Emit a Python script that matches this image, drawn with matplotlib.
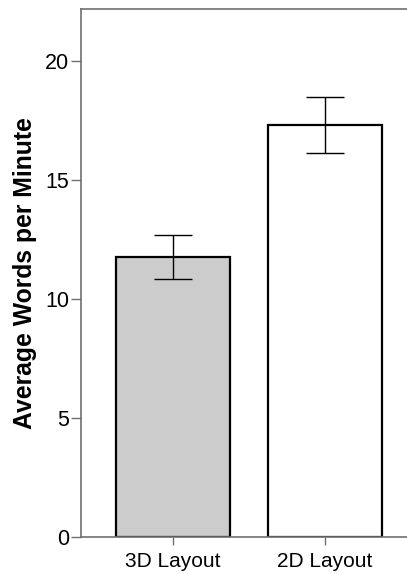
import matplotlib
matplotlib.use("Agg")
import matplotlib.pyplot as plt

plt.rcParams['font.family'] = ['Liberation Sans', 'DejaVu Sans']

# values
layouts = ["3D Layout", "2D Layout"]
wpm_mean = [11.79, 17.32]
wpm_err = [0.93, 1.18]
bar_colors = ["#cccccc", "#ffffff"]
y_ticks = [0, 5, 10, 15, 20]

fig = plt.figure(figsize=(4.07, 5.74), dpi=100)
ax = fig.add_axes([0.199, 0.0645, 0.801, 0.9195])

x = list(range(len(layouts)))
ax.bar(x, wpm_mean, width=0.75, color=bar_colors, edgecolor="black",
       linewidth=1.6, zorder=2)
ax.errorbar(x, wpm_mean, yerr=wpm_err, fmt="none", ecolor="black",
            elinewidth=1.0, capsize=13.5, capthick=1.0, zorder=3)

ax.set_xlim(-0.605, 1.54)
ax.set_ylim(0, 22.2)
ax.set_xticks(x)
ax.set_xticklabels(layouts, fontsize=15)
ax.set_yticks(y_ticks)
ax.set_yticklabels([str(t) for t in y_ticks], fontsize=15.5)
ax.set_ylabel("Average Words per Minute", fontsize=17.8, fontweight="bold",
              labelpad=6)

for side in ["left", "top", "bottom"]:
    ax.spines[side].set_color("#707070")
    ax.spines[side].set_linewidth(1.2)
ax.spines["right"].set_visible(False)
ax.tick_params(axis="both", colors="#707070", labelcolor="black", width=1.0)
ax.tick_params(axis="y", length=7, pad=1.5)
ax.tick_params(axis="x", length=6, pad=5)

fig.savefig("out.png", dpi=100)
